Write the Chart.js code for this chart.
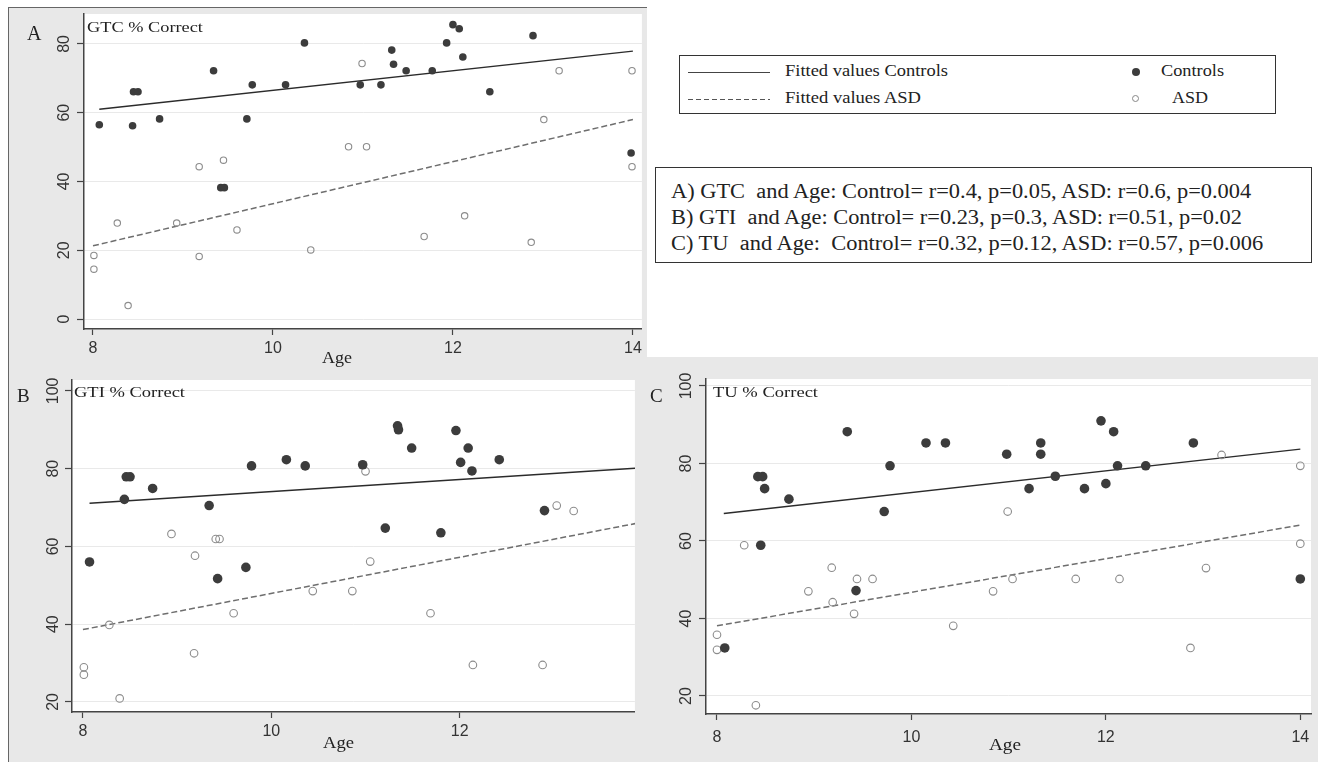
<!DOCTYPE html>
<html lang="en">
<head>
<meta charset="UTF-8">
<title>GTC, GTI and TU % correct by age</title>
<script src="https://cdn.jsdelivr.net/npm/chart.js"></script>
<style>
  html, body { margin: 0; padding: 0; }
  body {
    width: 1318px; height: 762px; position: relative; overflow: hidden;
    background: #fff; font-family: "Liberation Serif", "Times New Roman", serif; color: #222;
  }
  .gray { position: absolute; left: 8px; top: 8px; width: 1310px; height: 754px; background: #e8e8e8; border-left: 1.5px solid #666; }
  .corner { position: absolute; left: 647px; top: 0; width: 671px; height: 357px; background: #fff; }
  .topline { position: absolute; left: 8px; top: 7px; width: 639px; border-top: 1.5px solid #666; }
  canvas { position: absolute; }
  .t { position: absolute; white-space: nowrap; line-height: 1; transform-origin: 0 50%; }
  .box { position: absolute; box-sizing: border-box; border: 1.5px solid #333; background: #fff; }
  .solid { position: absolute; left: 688px; width: 82px; border-top: 1.2px solid #444; }
  .dash { position: absolute; left: 688px; width: 82px; height: 1.2px;
          background: repeating-linear-gradient(90deg, #555 0 5px, transparent 5px 8px); }
  .dot { position: absolute; width: 8px; height: 8px; border-radius: 50%; background: #3c3c3c; }
  .ring { position: absolute; width: 5px; height: 5px; border-radius: 50%; border: 1.2px solid #888; }
</style>
</head>
<body>
  <div class="gray"></div>
  <div class="corner"></div>
  <div class="topline"></div>

  <canvas id="chartA" width="639" height="370" style="left:8px; top:8px;"></canvas>
  <canvas id="chartB" width="632" height="392" style="left:8px; top:370px;"></canvas>
  <canvas id="chartC" width="678" height="402" style="left:640px; top:360px;"></canvas>

  <div class="t" style="left:27px; top:23px; font-size:20px;">A</div>
  <div class="t" style="left:17px; top:386px; font-size:19px;">B</div>
  <div class="t" style="left:650px; top:386px; font-size:19px;">C</div>

  <div class="t" data-w="116" style="left:87px; top:20px; font-size:15px;">GTC % Correct</div>
  <div class="t" data-w="111" style="left:74px; top:385px; font-size:15px;">GTI % Correct</div>
  <div class="t" data-w="105" style="left:713px; top:385px; font-size:15px;">TU % Correct</div>

  <div class="t" data-w="30" style="left:322px; top:349px; font-size:17px;">Age</div>
  <div class="t" data-w="31" style="left:323px; top:734px; font-size:17px;">Age</div>
  <div class="t" data-w="32" style="left:989px; top:736px; font-size:17px;">Age</div>

  <!-- legend -->
  <div class="box" style="left:679px; top:55px; width:597px; height:59px;"></div>
  <div class="solid" style="top:72px;"></div>
  <div class="dash" style="top:99px;"></div>
  <div class="t" data-w="163" style="left:785px; top:63px; font-size:16px;">Fitted values Controls</div>
  <div class="t" data-w="136" style="left:785px; top:90px; font-size:16px;">Fitted values ASD</div>
  <div class="dot" style="left:1132px; top:68px;"></div>
  <div class="ring" style="left:1132px; top:95px;"></div>
  <div class="t" data-w="63" style="left:1161px; top:63px; font-size:16px;">Controls</div>
  <div class="t" data-w="36" style="left:1172px; top:90px; font-size:16px;">ASD</div>

  <!-- correlations -->
  <div class="box" style="left:655px; top:167px; width:657px; height:96px;"></div>
  <div class="t" data-w="580" style="left:671px; top:181px; font-size:20px;">A) GTC&nbsp; and Age: Control= r=0.4, p=0.05, ASD: r=0.6, p=0.004</div>
  <div class="t" data-w="571" style="left:671px; top:207px; font-size:20px;">B) GTI&nbsp; and Age: Control= r=0.23, p=0.3, ASD: r=0.51, p=0.02</div>
  <div class="t" data-w="592" style="left:671px; top:233px; font-size:20px;">C) TU&nbsp; and Age:&nbsp; Control= r=0.32, p=0.12, ASD: r=0.57, p=0.006</div>

<script>
  const xTicks = [8, 10, 12, 14];

  // A) GTC % correct
  const ageCtrlA = [8.07, 8.44, 8.45, 8.5, 8.74, 9.34, 9.42, 9.46, 9.71, 9.77, 10.14, 10.35, 10.97, 11.2, 11.32, 11.34, 11.48, 11.77, 11.93, 12.0, 12.07, 12.11, 12.41, 12.89, 13.98];
  const gtcCtrl  = [56.5, 56.2, 66.1, 66.1, 58.2, 72.2, 38.2, 38.2, 58.2, 68.1, 68.1, 80.3, 68.1, 68.1, 78.2, 74.1, 72.2, 72.2, 80.3, 85.6, 84.4, 76.2, 66.1, 82.4, 48.3];
  const ageAsdA  = [8.01, 8.01, 8.27, 8.39, 8.93, 9.18, 9.18, 9.45, 9.6, 10.42, 10.84, 10.99, 11.04, 11.68, 12.13, 12.87, 13.01, 13.18, 13.99, 13.99];
  const gtcAsd   = [18.5, 14.5, 27.9, 3.9, 27.9, 44.3, 18.2, 46.2, 25.9, 20.1, 50.1, 74.3, 50.1, 24.0, 30.0, 22.3, 58.0, 72.2, 72.2, 44.3];
  const fitCtrlAgeA = [8.07, 14.0], fitCtrlA = [61.0, 77.9];
  const fitAsdAgeA  = [8.0, 14.0],  fitAsdA  = [21.3, 58.0];
  const yTicksA = [0, 20, 40, 60, 80];

  // B) GTI % correct
  const ageCtrlB = [8.07, 8.44, 8.46, 8.5, 8.74, 9.34, 9.43, 9.73, 9.79, 10.16, 10.36, 10.97, 11.21, 11.34, 11.35, 11.49, 11.8, 11.96, 12.01, 12.09, 12.13, 12.42, 12.9];
  const gtiCtrl  = [56.0, 72.1, 77.9, 77.9, 74.9, 70.5, 51.7, 54.6, 80.7, 82.3, 80.7, 81.0, 64.7, 91.0, 90.0, 85.3, 63.5, 89.8, 81.6, 85.3, 79.4, 82.3, 69.2];
  const ageAsdB  = [8.01, 8.01, 8.28, 8.39, 8.94, 9.18, 9.19, 9.41, 9.45, 9.6, 10.44, 10.86, 11.0, 11.05, 11.69, 12.14, 12.88, 13.03, 13.21];
  const gtiAsd   = [28.9, 27.0, 39.8, 20.9, 63.2, 32.5, 57.6, 61.9, 61.9, 42.8, 48.5, 48.5, 79.3, 56.1, 42.8, 29.5, 29.5, 70.5, 69.1];
  const fitCtrlAgeB = [8.07, 14.0], fitCtrlB = [71.1, 80.3];
  const fitAsdAgeB  = [8.0, 14.0],  fitAsdB  = [38.6, 66.5];
  const yTicksB = [20, 40, 60, 80, 100];

  // C) TU % correct
  const ageCtrlC = [8.08, 8.42, 8.45, 8.47, 8.49, 8.74, 9.34, 9.43, 9.72, 9.78, 10.15, 10.35, 10.98, 11.21, 11.33, 11.33, 11.48, 11.78, 11.95, 12.0, 12.08, 12.12, 12.41, 12.9, 14.0];
  const tuCtrl   = [32.4, 76.6, 58.9, 76.6, 73.5, 70.8, 88.2, 47.2, 67.6, 79.4, 85.3, 85.3, 82.4, 73.5, 85.3, 82.4, 76.7, 73.5, 91.0, 74.8, 88.2, 79.4, 79.4, 85.3, 50.2];
  const ageAsdC  = [8.0, 8.0, 8.28, 8.4, 8.94, 9.18, 9.19, 9.41, 9.44, 9.6, 10.43, 10.84, 10.99, 11.04, 11.69, 12.14, 12.87, 13.03, 13.19, 14.0, 14.0];
  const tuAsd    = [35.8, 31.9, 58.9, 17.6, 47.0, 53.1, 44.2, 41.2, 50.2, 50.2, 38.1, 47.0, 67.6, 50.2, 50.2, 50.2, 32.4, 53.0, 82.2, 79.4, 59.3];
  const fitCtrlAgeC = [8.07, 14.0], fitCtrlC = [67.1, 83.7];
  const fitAsdAgeC  = [8.0, 14.0],  fitAsdC  = [38.1, 64.1];
  const yTicksC = [20, 40, 60, 80, 100];

  const tickFont = { family: '"Liberation Sans", Arial, sans-serif', size: 16 };

  // white plot region
  const plotBg = {
    id: 'plotBg',
    beforeDraw(chart) {
      const { ctx, chartArea: a } = chart;
      ctx.save();
      ctx.fillStyle = '#fff';
      ctx.fillRect(a.left, a.top, a.right - a.left, a.bottom - a.top);
      ctx.restore();
    }
  };

  // stata style vertical y labels
  const yLabels = {
    id: 'yLabels',
    afterDraw(chart, args, opts) {
      const s = chart.scales.y, ctx = chart.ctx;
      ctx.save();
      ctx.font = '16px "Liberation Sans", Arial, sans-serif';
      ctx.fillStyle = '#333';
      ctx.textAlign = 'center';
      ctx.textBaseline = 'middle';
      s.ticks.forEach(t => {
        ctx.save();
        ctx.translate(s.right - opts.offset, s.getPixelForValue(t.value));
        ctx.rotate(-Math.PI / 2);
        ctx.fillText(String(t.value), 0, 0);
        ctx.restore();
      });
      ctx.restore();
    }
  };

  function pts(xs, ys) {
    return xs.map((x, i) => ({ x: x, y: ys[i] }));
  }

  function makePanel(id, p) {
    new Chart(document.getElementById(id), {
      type: 'scatter',
      data: {
        datasets: [
          { data: pts(p.ctrlAge, p.ctrl), pointRadius: p.dot, backgroundColor: '#3c3c3c', borderColor: '#3c3c3c', borderWidth: 0 },
          { data: pts(p.asdAge, p.asd), pointRadius: p.ring, backgroundColor: 'rgba(0,0,0,0)', borderColor: '#8c8c8c', borderWidth: 1.1 },
          { data: pts(p.fitCtrlAge, p.fitCtrl), showLine: true, pointRadius: 0, borderColor: '#2b2b2b', borderWidth: 1.4 },
          { data: pts(p.fitAsdAge, p.fitAsd), showLine: true, pointRadius: 0, borderColor: '#6e6e6e', borderWidth: 1.5, borderDash: [6, 3] }
        ]
      },
      options: {
        responsive: false,
        animation: false,
        events: [],
        layout: { padding: { top: p.padTop, right: p.padRight, left: 0, bottom: 0 } },
        plugins: { legend: { display: false }, tooltip: { enabled: false }, yLabels: { offset: p.yLabelOff } },
        scales: {
          x: {
            type: 'linear', min: p.xMin, max: p.xMax,
            afterBuildTicks: s => { s.ticks = xTicks.filter(v => v <= p.xMax).map(v => ({ value: v })); },
            afterFit: s => { s.height = p.xAxisH; },
            grid: { drawOnChartArea: false, tickLength: 6, tickColor: '#444', tickWidth: 1.2 },
            border: { color: '#444', width: 1.5 },
            ticks: { font: tickFont, color: '#333', padding: p.xPad }
          },
          y: {
            min: p.yMin, max: p.yMax,
            afterBuildTicks: s => { s.ticks = p.yTicks.map(v => ({ value: v })); },
            afterFit: s => { s.width = p.yAxisW; },
            grid: { color: '#e9e9e9', lineWidth: 1, tickLength: 7, tickColor: '#444', tickWidth: 1.2 },
            border: { color: '#444', width: 1.5 },
            ticks: { display: false }
          }
        }
      },
      plugins: [plotBg, yLabels]
    });
  }

  makePanel('chartA', {
    ctrlAge: ageCtrlA, ctrl: gtcCtrl, asdAge: ageAsdA, asd: gtcAsd,
    fitCtrlAge: fitCtrlAgeA, fitCtrl: fitCtrlA, fitAsdAge: fitAsdAgeA, fitAsd: fitAsdA,
    yTicks: yTicksA, xMin: 7.9, xMax: 14.1, yMin: -2.9, yMax: 88.7,
    padTop: 6, padRight: 4, yAxisW: 76, xAxisH: 49, xPad: 4, yLabelOff: 19.5, dot: 3.8, ring: 3.2
  });

  makePanel('chartB', {
    ctrlAge: ageCtrlB, ctrl: gtiCtrl, asdAge: ageAsdB, asd: gtiAsd,
    fitCtrlAge: fitCtrlAgeB, fitCtrl: fitCtrlB, fitAsdAge: fitAsdAgeB, fitAsd: fitAsdB,
    yTicks: yTicksB, xMin: 7.884, xMax: 13.86, yMin: 17.4, yMax: 102.8,
    padTop: 10, padRight: 3, yAxisW: 64, xAxisH: 50, xPad: 4, yLabelOff: 18.5, dot: 4.8, ring: 3.8
  });

  makePanel('chartC', {
    ctrlAge: ageCtrlC, ctrl: tuCtrl, asdAge: ageAsdC, asd: tuAsd,
    fitCtrlAge: fitCtrlAgeC, fitCtrl: fitCtrlC, fitAsdAge: fitAsdAgeC, fitAsd: fitAsdC,
    yTicks: yTicksC, xMin: 7.887, xMax: 14.11, yMin: 15.35, yMax: 101.8,
    padTop: 19, padRight: 7, yAxisW: 66, xAxisH: 48, xPad: 8, yLabelOff: 19, dot: 4.8, ring: 3.8
  });

  // stretch text horizontally like the source image
  document.querySelectorAll('[data-w]').forEach(el => {
    const w = el.getBoundingClientRect().width;
    el.style.transform = 'scaleX(' + (Number(el.dataset.w) / w).toFixed(3) + ')';
  });
</script>
</body>
</html>
